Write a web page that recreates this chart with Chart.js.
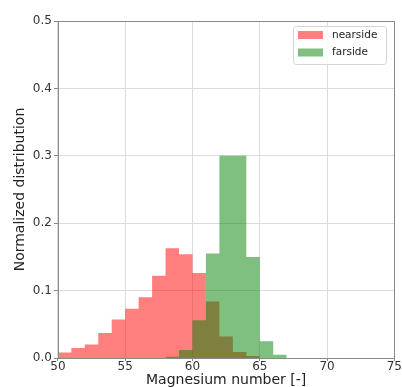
<!DOCTYPE html>
<html>
<head>
<meta charset="utf-8">
<script src="https://cdn.jsdelivr.net/npm/chart.js@4"></script>
<style>
  html, body { margin: 0; padding: 0; background: #fff; }
  #wrap { width: 402px; height: 387px; }
</style>
</head>
<body>
<div id="wrap"><canvas id="myChart" width="402" height="387"></canvas></div>
<script>
// bin left edges (width 1) and normalized heights
const nearBins = [50, 51, 52, 53, 54, 55, 56, 57, 58, 59, 60, 61, 62, 63, 64];
const nearValues = [0.008, 0.015, 0.020, 0.037, 0.057, 0.073, 0.090, 0.122, 0.163, 0.154, 0.126, 0.084, 0.032, 0.009, 0.003];
const farBins = [58, 59, 60, 61, 62, 63, 64, 65, 66];
const farValues = [0.002, 0.012, 0.056, 0.155, 0.300, 0.300, 0.150, 0.025, 0.005];
const seriesNames = ['nearside', 'farside'];
const xTicks = [50, 55, 60, 65, 70, 75];
const yTicks = [0.0, 0.1, 0.2, 0.3, 0.4, 0.5];

const nearColor = 'rgba(255, 0, 0, 0.5)';
const farColor = 'rgba(0, 128, 0, 0.5)';

// step outline of a histogram: each bin holds its value until the next edge
function toSteps(bins, vals) {
    const pts = bins.map((b, i) => ({ x: b, y: vals[i] }));
    pts.push({ x: bins[bins.length - 1] + 1, y: vals[vals.length - 1] });
    return pts;
}

// matplotlib style legend box in the upper right
const boxLegend = {
    id: 'boxLegend',
    afterDraw(chart) {
        const c = chart.ctx;
        const a = chart.chartArea;
        const x0 = Math.round(a.right) - 101, y0 = Math.round(a.top) + 5, w = 93, h = 38;
        c.save();
        c.fillStyle = 'rgba(255,255,255,0.85)';
        c.strokeStyle = '#d5d5d5';
        c.lineWidth = 1;
        c.beginPath();
        c.roundRect(x0 + 0.5, y0 + 0.5, w, h, 3);
        c.fill();
        c.stroke();
        c.font = '10.5px "DejaVu Sans"';
        c.textBaseline = 'middle';
        chart.data.datasets.forEach((ds, i) => {
            const yy = y0 + 9 + i * 17.5;
            c.fillStyle = ds.backgroundColor;
            c.fillRect(x0 + 5, yy - 4, 25, 8);
            c.fillStyle = '#222';
            c.fillText(ds.label, x0 + 39, yy);
        });
        c.restore();
    }
};

// full frame around plot area
const frame = {
    id: 'frame',
    afterDatasetsDraw(chart) {
        const c = chart.ctx;
        const a = chart.chartArea;
        c.save();
        c.strokeStyle = '#8a8a8a';
        c.lineWidth = 1;
        c.strokeRect(Math.round(a.left) + 0.5, Math.round(a.top) + 0.5,
            Math.round(a.right - a.left), Math.round(a.bottom - a.top));
        c.restore();
    }
};

const histStyle = {
    stepped: 'before',
    fill: 'origin',
    borderWidth: 0,
    borderColor: 'rgba(0,0,0,0)',
    pointRadius: 0,
    tension: 0
};

const ctx = document.getElementById('myChart').getContext('2d');
const myChart = new Chart(ctx, {
    type: 'line',
    data: {
        datasets: [{
            label: seriesNames[0],
            data: toSteps(nearBins, nearValues),
            backgroundColor: nearColor,
            order: 2,
            ...histStyle
        }, {
            label: seriesNames[1],
            data: toSteps(farBins, farValues),
            backgroundColor: farColor,
            order: 1,
            ...histStyle
        }]
    },
    options: {
        responsive: false,
        animation: false,
        layout: { padding: { top: 21, right: 0, left: 12, bottom: 0 } },
        plugins: {
            legend: { display: false },
            tooltip: { enabled: false },
            filler: { propagate: false }
        },
        scales: {
            x: {
                type: 'linear',
                offset: false,
                min: 50,
                max: 75,
                afterBuildTicks: (axis) => { axis.ticks = xTicks.map(v => ({ value: v })); },
                ticks: {
                    color: '#333',
                    font: { family: 'DejaVu Sans', size: 12, lineHeight: 1 },
                    padding: 0,
                    maxRotation: 0
                },
                grid: { color: '#dcdcdc', tickLength: 3, tickColor: '#888' },
                border: { display: false },
                title: {
                    display: true,
                    text: 'Magnesium number [-]',
                    color: '#222',
                    font: { family: 'DejaVu Sans', size: 14, lineHeight: 1 },
                    padding: { top: 0, bottom: 0 }
                }
            },
            y: {
                min: 0,
                max: 0.5,
                afterBuildTicks: (axis) => { axis.ticks = yTicks.map(v => ({ value: v })); },
                ticks: {
                    color: '#333',
                    font: { family: 'DejaVu Sans', size: 12, lineHeight: 1 },
                    padding: 2,
                    callback: (v) => Number(v).toFixed(1)
                },
                grid: { color: '#dcdcdc', tickLength: 4, tickColor: '#888' },
                border: { display: false },
                title: {
                    display: true,
                    text: 'Normalized distribution',
                    color: '#222',
                    font: { family: 'DejaVu Sans', size: 14, lineHeight: 1.2 },
                    padding: { top: 0, bottom: 2 }
                }
            }
        }
    },
    plugins: [frame, boxLegend]
});
</script>
</body>
</html>
